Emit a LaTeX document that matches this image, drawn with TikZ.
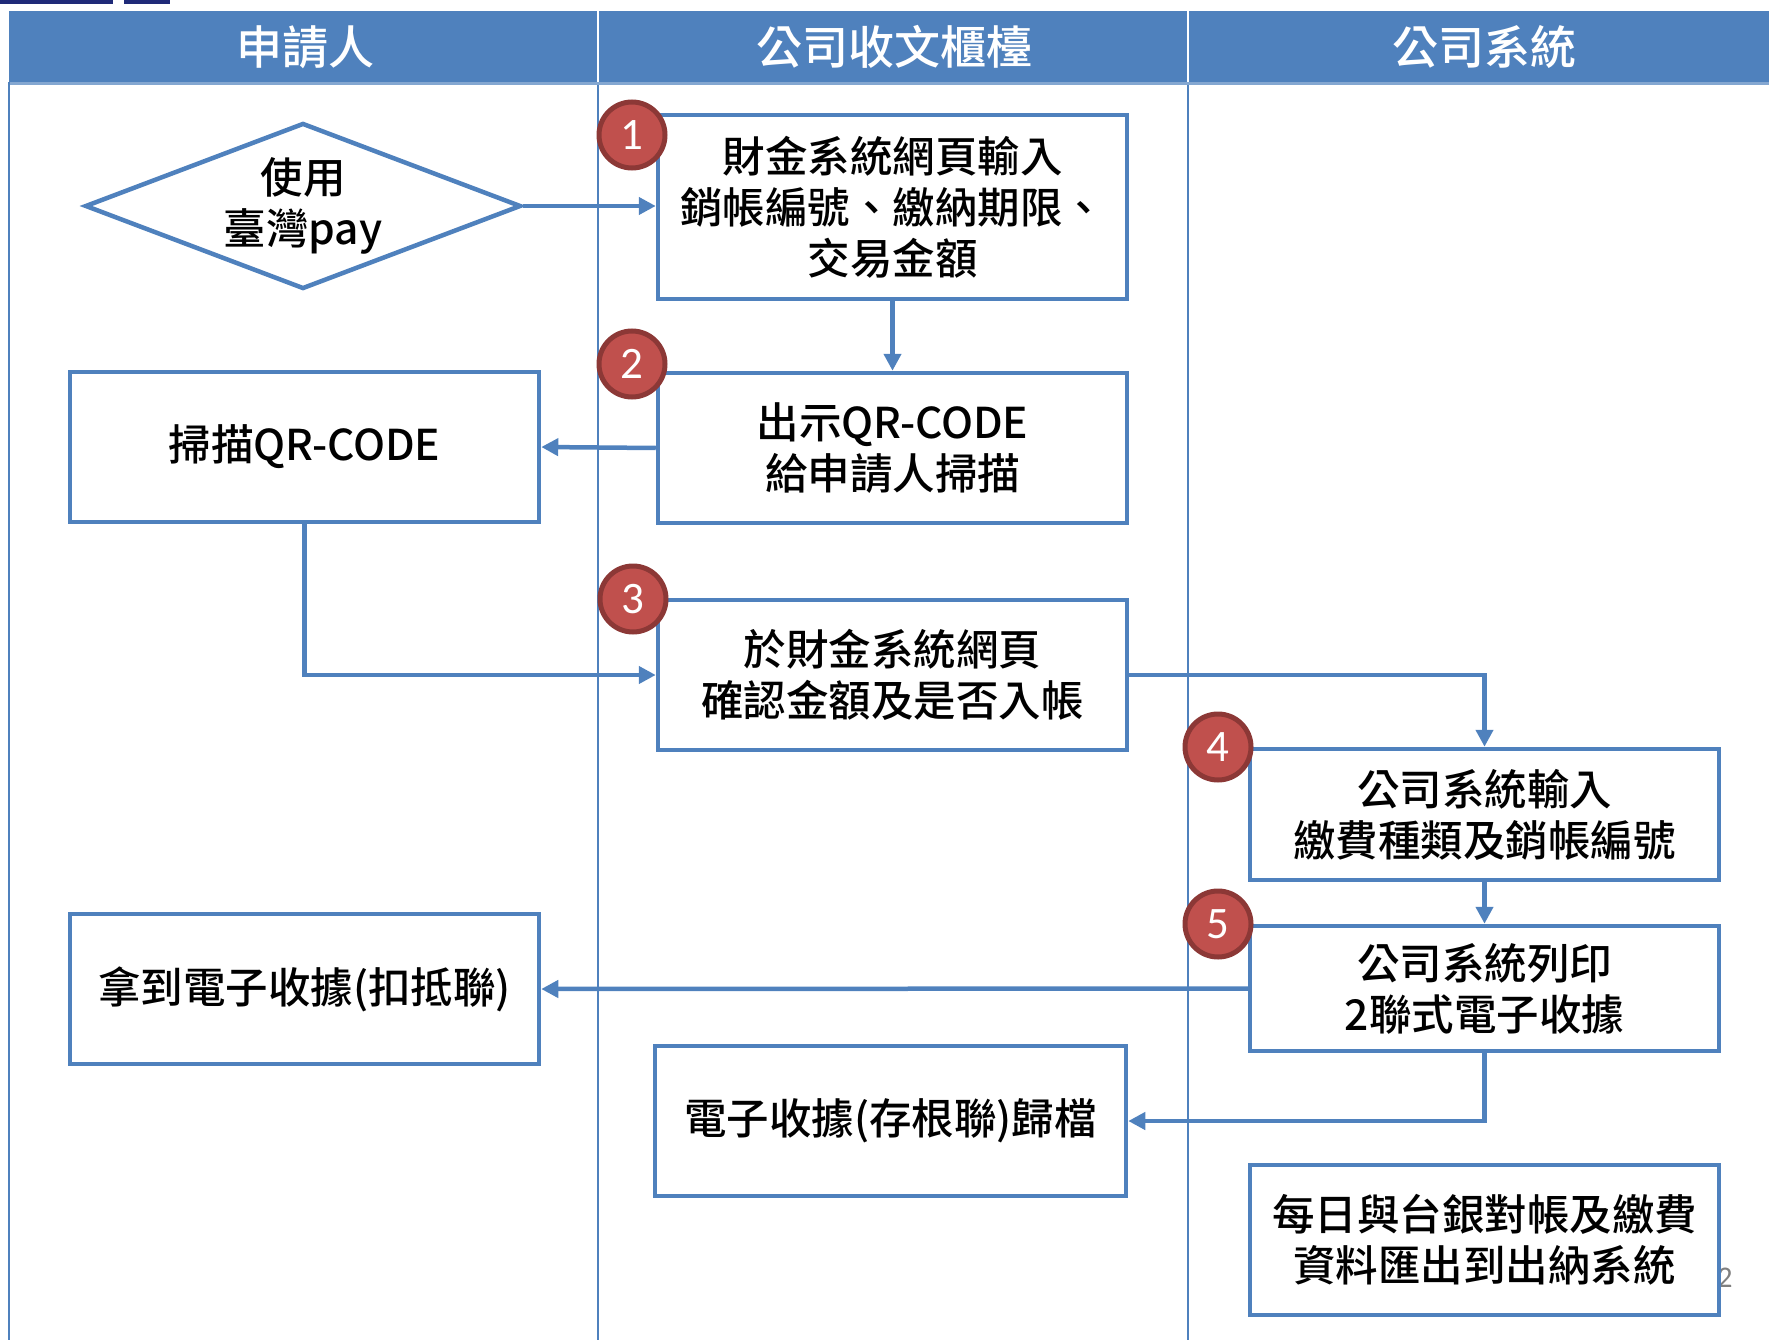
\documentclass[tikz,border=0pt]{standalone}
\usepackage{fontspec}
\setmainfont{Noto Sans CJK TC}[BoldFont={Noto Sans CJK TC Medium}]
\newfontfamily\numfont{Carlito}
\usetikzlibrary{arrows.meta,shapes.geometric}
\definecolor{laneblue}{HTML}{4F81BD}
\definecolor{circfill}{HTML}{C0504D}
\definecolor{circdraw}{HTML}{8C3836}
\definecolor{navy}{HTML}{1F2A78}
\tikzset{
  procbox/.style={draw=laneblue, line width=4.5pt, fill=white, inner sep=0pt,
    minimum width=469pt, align=center,
    font=\fontsize{42.5}{51}\selectfont\bfseries},
  diabox/.style={draw=laneblue, line width=4.5pt, fill=white, diamond, inner sep=0pt,
    minimum width=436pt, minimum height=166pt},
  txt/.style={align=center, font=\fontsize{42.5}{51}\selectfont\bfseries},
  numcirc/.style={circle, draw=circdraw, line width=5pt, fill=circfill, text=white,
    minimum size=66pt, inner sep=0pt, font=\numfont\fontsize{45}{45}\selectfont},
  flow/.style={draw=laneblue, line width=4.5pt, -{Triangle[length=17pt,width=17pt]}},
  lane/.style={draw=laneblue, line width=2pt},
  headtxt/.style={text=white, font=\fontsize{46}{50}\selectfont\bfseries}
}
\begin{document}
\begin{tikzpicture}[x=1pt,y=-1pt]
\useasboundingbox (0,0) rectangle (1769,1340);
% top fragments
\fill[navy] (0,0) rectangle (113,4);
\fill[navy] (124,0) rectangle (170,4);
% header
\fill[laneblue] (9,11) rectangle (1769,82);
\draw[color=laneblue!70!white, line width=3pt] (9,83.5) -- (1769,83.5);
\draw[white, line width=1.5pt] (598,11) -- (598,82);
\draw[white, line width=1.5pt] (1188,11) -- (1188,82);
\node[headtxt] (h1) at (305,47) {申請人};
\node[headtxt] (h2) at (894,47) {公司收文櫃檯};
\node[headtxt] (h3) at (1484,47) {公司系統};
% lanes
\draw[lane] (9,82) -- (9,1340);
\draw[lane] (598,85) -- (598,1340);
\draw[lane] (1188,85) -- (1188,1340);
% page number
\node[text=gray, font=\numfont\fontsize{30}{30}\selectfont] (pg) at (1725,1278) {2};
% nodes
\node[diabox] (d) at (303,206) {};
\node[txt] (dt) at (d) {使用\\臺灣pay};
\node[procbox, minimum height=184pt] (b1) at (892.5,207) {財金系統網頁輸入\\銷帳編號、繳納期限、\\交易金額};
\node[procbox, minimum height=150pt] (b2) at (892.5,448) {出示QR-CODE\\給申請人掃描};
\node[procbox, minimum height=150pt] (scan) at (304.5,447) {掃描QR-CODE};
\node[procbox, minimum height=150pt] (b3) at (892.5,675) {於財金系統網頁\\確認金額及是否入帳};
\node[procbox, minimum height=131pt] (b4) at (1484.5,814.5) {公司系統輸入\\繳費種類及銷帳編號};
\node[procbox, minimum height=125pt] (b5) at (1484.5,988.5) {公司系統列印\\2聯式電子收據};
\node[procbox, minimum height=150pt] (recv) at (304.5,989) {拿到電子收據(扣抵聯)};
\node[procbox, minimum height=150pt, minimum width=471pt] (arch) at (890.5,1121) {電子收據(存根聯)歸檔};
\node[procbox, minimum height=150pt] (daily) at (1484.5,1240) {每日與台銀對帳及繳費\\資料匯出到出納系統};
% connectors
\draw[flow] (d.east) -- (d.east -| b1.west);
\draw[flow] (b1.south) -- (b2.north);
\draw[flow] (b2.west) -- (scan.east);
\draw[flow] (scan.south) |- (b3.west);
\draw[flow] (b3.east) -| (b4.north);
\draw[flow] (b4.south) -- (b5.north);
\draw[flow] (b5.west) -- (recv.east);
\draw[flow] (b5.south) |- (arch.east);
% numbered circles
\node[numcirc] (c1) at (632,135) {1};
\node[numcirc] (c2) at (632,364) {2};
\node[numcirc] (c3) at (633,599) {3};
\node[numcirc] (c4) at (1218,747) {4};
\node[numcirc] (c5) at (1218,924) {5};
\end{tikzpicture}
\end{document}
